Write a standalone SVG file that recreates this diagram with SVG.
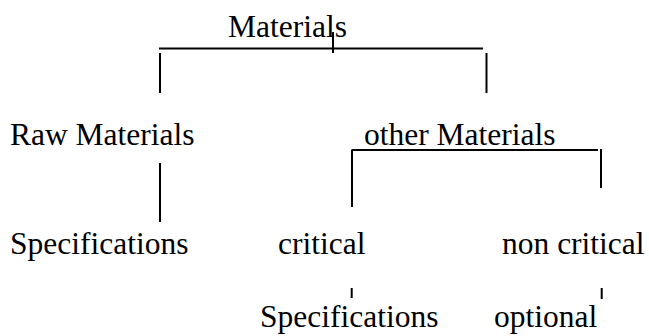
<svg xmlns="http://www.w3.org/2000/svg" width="649" height="336" viewBox="0 0 649 336">
<style>
text{font-family:"Liberation Serif","Times New Roman",serif;font-size:31.5px;fill:#000}
.c line{stroke:#000;stroke-width:2;fill:none}
</style>
<rect width="649" height="336" fill="#fff"/>
<g id="n-materials"><text x="228" y="36.5">Materials</text></g>
<g id="n-raw"><text x="10" y="145">Raw Materials</text></g>
<g id="n-other"><text x="364" y="145">other Materials</text></g>
<g id="n-spec1"><text x="10" y="254">Specifications</text></g>
<g id="n-critical"><text x="278" y="254">critical</text></g>
<g id="n-noncritical"><text x="502" y="254">non critical</text></g>
<g id="n-spec2"><text x="260" y="327">Specifications</text></g>
<g id="n-optional"><text x="494" y="327">optional</text></g>
<g id="connectors" class="c">
<line x1="333" y1="32" x2="333" y2="53"/>
<line x1="159" y1="48.5" x2="483" y2="48.5"/>
<line x1="160" y1="53" x2="160" y2="93"/>
<line x1="486.5" y1="53" x2="486.5" y2="93"/>
<line x1="351.5" y1="150" x2="598" y2="150"/>
<line x1="352" y1="150" x2="352" y2="207"/>
<line x1="601" y1="149" x2="601" y2="188"/>
<line x1="160" y1="163" x2="160" y2="222"/>
<line x1="351.7" y1="288" x2="351.7" y2="298"/>
<line x1="601.7" y1="288" x2="601.7" y2="299"/>
</g>
</svg>
